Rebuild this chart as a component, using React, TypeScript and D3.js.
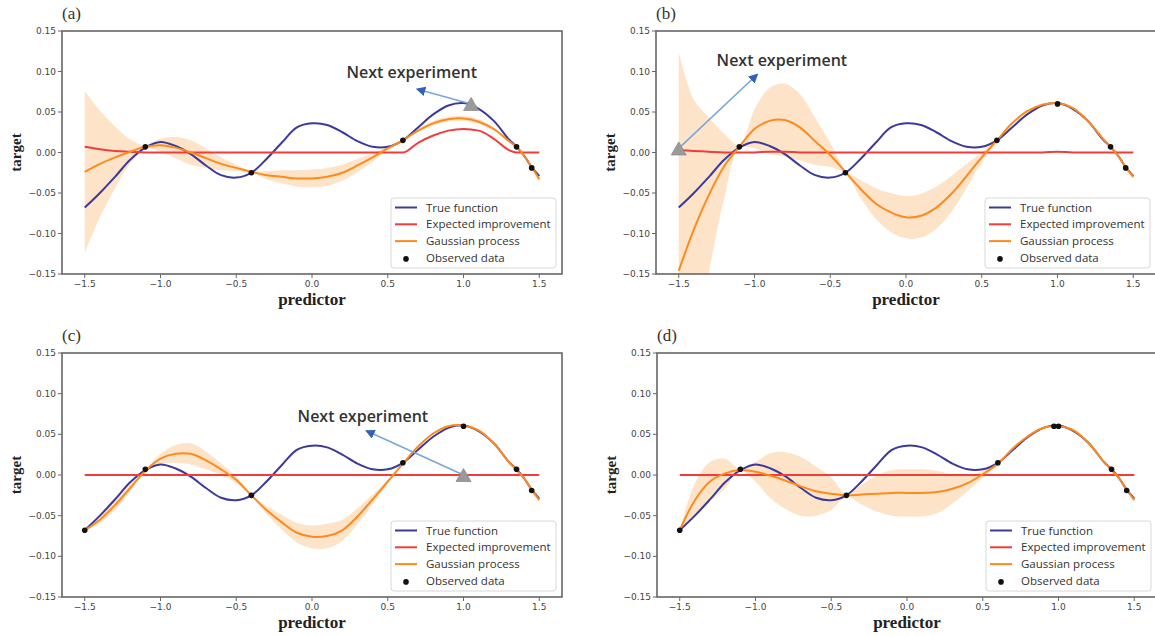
import React from "react";
import * as d3 from "d3";

// ---------- data ----------
const X_GRID = [-1.5, -1.4, -1.3, -1.2, -1.1, -1.0, -0.9, -0.8, -0.7, -0.6, -0.5, -0.4, -0.3, -0.2, -0.1, 0.0, 0.1, 0.2, 0.3, 0.4, 0.5, 0.6, 0.7, 0.8, 0.9, 1.0, 1.1, 1.2, 1.3, 1.35, 1.4, 1.45, 1.5];

const TRUE_Y = [-0.068, -0.05, -0.03, -0.009, 0.006, 0.013, 0.008, -0.002, -0.016, -0.028, -0.031, -0.025, -0.008, 0.012, 0.031, 0.036, 0.034, 0.025, 0.014, 0.007, 0.007, 0.015, 0.031, 0.047, 0.058, 0.061, 0.054, 0.039, 0.016, 0.007, -0.004, -0.018, -0.029];

// panel (a)
const GP_MEAN_A = [-0.024, -0.014, -0.006, 0.001, 0.007, 0.009, 0.006, 0.0, -0.007, -0.014, -0.019, -0.024, -0.028, -0.03, -0.032, -0.032, -0.03, -0.025, -0.016, -0.006, 0.005, 0.015, 0.027, 0.036, 0.041, 0.042, 0.038, 0.029, 0.014, 0.007, -0.004, -0.018, -0.033];
const GP_SD_A = [0.1, 0.066, 0.038, 0.015, 0.002, 0.008, 0.013, 0.015, 0.012, 0.008, 0.004, 0.001, 0.005, 0.008, 0.01, 0.011, 0.011, 0.01, 0.008, 0.005, 0.002, 0.001, 0.002, 0.003, 0.003, 0.003, 0.003, 0.002, 0.001, 0.001, 0.001, 0.001, 0.003];
const EI_A = [0.007, 0.004, 0.002, 0.001, 0, 0, 0, 0, 0, 0, 0, 0, 0, 0, 0, 0, 0, 0, 0, 0, 0, 0, 0.012, 0.021, 0.027, 0.029, 0.027, 0.017, 0.003, 0, 0, 0, 0];
const OBS_X_A = [-1.1, -0.4, 0.6, 1.35, 1.45];
const OBS_Y_A = [0.007, -0.025, 0.015, 0.007, -0.019];
const NEXT_A = [1.05, 0.06];

// panel (b)
const GP_MEAN_B = [-0.146, -0.095, -0.052, -0.017, 0.007, 0.029, 0.039, 0.04, 0.031, 0.014, -0.003, -0.024, -0.045, -0.063, -0.074, -0.08, -0.078, -0.068, -0.051, -0.029, -0.006, 0.015, 0.036, 0.051, 0.059, 0.061, 0.055, 0.039, 0.017, 0.007, -0.004, -0.018, -0.03];
const GP_SD_B = [0.27, 0.16, 0.095, 0.04, 0.002, 0.024, 0.041, 0.045, 0.041, 0.029, 0.015, 0.002, 0.011, 0.019, 0.024, 0.026, 0.027, 0.026, 0.022, 0.015, 0.006, 0.001, 0.001, 0.001, 0.001, 0.001, 0.001, 0.001, 0.001, 0.001, 0.001, 0.001, 0.002];
const EI_B = [0.003, 0.002, 0.001, 0, 0, 0, 0.001, 0.001, 0, 0, 0, 0, 0, 0, 0, 0, 0, 0, 0, 0, 0, 0, 0, 0, 0, 0.001, 0, 0, 0, 0, 0, 0, 0];
const OBS_X_B = [-1.1, -0.4, 0.6, 1.0, 1.35, 1.45];
const OBS_Y_B = [0.007, -0.025, 0.015, 0.06, 0.007, -0.019];
const NEXT_B = [-1.5, 0.005];

// panel (c)
const GP_MEAN_C = [-0.068, -0.055, -0.037, -0.016, 0.005, 0.02, 0.026, 0.026, 0.018, 0.007, -0.006, -0.025, -0.043, -0.058, -0.071, -0.076, -0.075, -0.068, -0.051, -0.03, -0.008, 0.014, 0.035, 0.051, 0.06, 0.061, 0.055, 0.039, 0.016, 0.006, -0.004, -0.018, -0.031];
const GP_SD_C = [0.0, 0.004, 0.006, 0.004, 0.001, 0.006, 0.011, 0.013, 0.011, 0.007, 0.004, 0.001, 0.005, 0.009, 0.012, 0.014, 0.015, 0.013, 0.01, 0.006, 0.002, 0.001, 0.001, 0.001, 0.001, 0.001, 0.001, 0.001, 0.001, 0.001, 0.001, 0.001, 0.001];
const EI_C = [0, 0, 0, 0, 0, 0, 0, 0, 0, 0, 0, 0, 0, 0, 0, 0, 0, 0, 0, 0, 0, 0, 0, 0, 0, 0, 0, 0, 0, 0, 0, 0, 0];
const OBS_X_C = [-1.5, -1.1, -0.4, 0.6, 1.0, 1.35, 1.45];
const OBS_Y_C = [-0.068, 0.007, -0.025, 0.015, 0.06, 0.007, -0.019];
const NEXT_C = [1.0, 0.0];

// panel (d)
const GP_MEAN_D = [-0.068, -0.031, -0.008, 0.002, 0.006, 0.004, -0.001, -0.007, -0.014, -0.02, -0.023, -0.025, -0.024, -0.023, -0.022, -0.022, -0.022, -0.021, -0.017, -0.01, 0.001, 0.014, 0.033, 0.048, 0.058, 0.06, 0.055, 0.039, 0.016, 0.006, -0.004, -0.018, -0.031];
const GP_SD_D = [0.0, 0.021, 0.024, 0.018, 0.001, 0.012, 0.028, 0.035, 0.036, 0.03, 0.02, 0.002, 0.012, 0.022, 0.028, 0.029, 0.029, 0.026, 0.018, 0.01, 0.004, 0.001, 0.001, 0.001, 0.001, 0.001, 0.001, 0.001, 0.001, 0.001, 0.001, 0.001, 0.001];
const EI_D = [0, 0, 0, 0, 0, 0, 0, 0, 0, 0, 0, 0, 0, 0, 0, 0, 0, 0, 0, 0, 0, 0, 0, 0, 0, 0, 0, 0, 0, 0, 0, 0, 0];
const OBS_X_D = [-1.5, -1.1, -0.4, 0.6, 0.97, 1.0, 1.35, 1.45];
const OBS_Y_D = [-0.068, 0.007, -0.025, 0.015, 0.06, 0.06, 0.007, -0.019];

const X_TICKS = [-1.5, -1.0, -0.5, 0.0, 0.5, 1.0, 1.5];
const Y_TICKS = [-0.15, -0.1, -0.05, 0.0, 0.05, 0.1, 0.15];
const LEGEND_LABELS = ["True function", "Expected improvement", "Gaussian process", "Observed data"];
const ANNOT_TEXT = "Next experiment";

// ---------- styles ----------
const C_TRUE = "#3b3a9c";
const C_EI = "#f23c3c";
const C_GP = "#ff8a1c";
const C_BAND = "#fde3c8";
const C_AXIS = "#666";
const C_TICK_TEXT = "#444";

const fmtMinus = (s: string) => s.replace("-", "\u2212");

type PanelProps = {
  id: string;
  label: string;
  left: number;
  top: number;
  width: number;
  height: number;
  mean: number[];
  sd: number[];
  ei: number[];
  obsX: number[];
  obsY: number[];
  next?: number[];
  annot?: { tx: number; ty: number; hx: number; hy: number };
};

function Panel(p: PanelProps) {
  const x = d3.scaleLinear().domain([-1.65, 1.65]).range([p.left, p.left + p.width]);
  const y = d3.scaleLinear().domain([-0.15, 0.15]).range([p.top + p.height, p.top]);
  const pts = X_GRID.map((xv, i) => ({ x: xv, t: TRUE_Y[i], m: p.mean[i], s: p.sd[i], e: p.ei[i] }));
  const curve = d3.curveCatmullRom.alpha(0.5);
  const area = d3
    .area<any>()
    .x((d) => x(d.x))
    .y0((d) => y(d.m - d.s))
    .y1((d) => y(d.m + d.s))
    .curve(curve);
  const lineT = d3.line<any>().x((d) => x(d.x)).y((d) => y(d.t)).curve(curve);
  const lineM = d3.line<any>().x((d) => x(d.x)).y((d) => y(d.m)).curve(curve);
  const lineE = d3.line<any>().x((d) => x(d.x)).y((d) => y(d.e)).curve(d3.curveMonotoneX);
  const clipId = "clip-" + p.id;
  const bottom = p.top + p.height;
  const right = p.left + p.width;

  // legend layout
  const lgW = 165;
  const lgH = 70;
  const lgX = right - 6 - lgW;
  const lgY = bottom - 6 - lgH;
  const rowH = 16.8;

  const tri = (cx: number, cy: number) => {
    const w = 7.5;
    const h = 13;
    return `M${cx - w},${cy + h / 2} L${cx + w},${cy + h / 2} L${cx},${cy - h / 2} Z`;
  };

  return (
    <g>
      <defs>
        <clipPath id={clipId}>
          <rect x={p.left} y={p.top} width={p.width} height={p.height} />
        </clipPath>
        <marker id={"arr-" + p.id} viewBox="0 0 10 10" refX="8" refY="5" markerWidth="6" markerHeight="6" orient="auto-start-reverse">
          <path d="M0,0 L10,5 L0,10 Z" fill="#2f62b8" />
        </marker>
      </defs>
      <text x={p.left} y={p.top - 12} fontFamily="Liberation Serif, serif" fontSize={17} fill="#333">
        {p.label}
      </text>
      <g clipPath={`url(#${clipId})`}>
        <path d={area(pts) || ""} fill={C_BAND} stroke="none" />
        <path d={lineT(pts) || ""} fill="none" stroke={C_TRUE} strokeWidth={2} />
        <path d={lineE(pts) || ""} fill="none" stroke={C_EI} strokeWidth={2} />
        <path d={lineM(pts) || ""} fill="none" stroke={C_GP} strokeWidth={2} />
        {p.obsX.map((ox, i) => (
          <circle key={i} cx={x(ox)} cy={y(p.obsY[i])} r={2.8} fill="#111" />
        ))}
      </g>
      {p.next && p.annot && (
        <g>
          <line
            x1={x(p.next[0])}
            y1={y(p.next[1])}
            x2={x(p.annot.hx)}
            y2={y(p.annot.hy)}
            stroke="#7aa6dc"
            strokeWidth={1.6}
            markerEnd={`url(#arr-${p.id})`}
          />
          <path d={tri(x(p.next[0]), y(p.next[1]))} fill="#9a9a9a" stroke="#8a8a8a" strokeWidth={0.8} />
          <text
            x={x(p.annot.tx)}
            y={y(p.annot.ty) + 5}
            textAnchor="middle"
            fontFamily="Open Sans, sans-serif"
            fontWeight={600}
            fontSize={16}
            fill="#333"
          >
            {ANNOT_TEXT}
          </text>
        </g>
      )}
      {/* frame */}
      <rect x={p.left} y={p.top} width={p.width} height={p.height} fill="none" stroke={C_AXIS} strokeWidth={1.6} />
      {/* ticks */}
      {X_TICKS.map((t) => (
        <g key={"x" + t}>
          <line x1={x(t)} x2={x(t)} y1={bottom} y2={bottom + 4} stroke={C_AXIS} strokeWidth={1} />
          <text x={x(t)} y={bottom + 13} textAnchor="middle" fontFamily="DejaVu Sans, sans-serif" fontSize={9} fill={C_TICK_TEXT}>
            {fmtMinus(d3.format(".1f")(t))}
          </text>
        </g>
      ))}
      {Y_TICKS.map((t) => (
        <g key={"y" + t}>
          <line x1={p.left - 4} x2={p.left} y1={y(t)} y2={y(t)} stroke={C_AXIS} strokeWidth={1} />
          <text x={p.left - 6} y={y(t) + 3} textAnchor="end" fontFamily="DejaVu Sans, sans-serif" fontSize={9} fill={C_TICK_TEXT}>
            {fmtMinus(d3.format(".2f")(Math.abs(t) < 1e-9 ? 0 : t))}
          </text>
        </g>
      ))}
      {/* axis labels */}
      <text
        x={(p.left + right) / 2}
        y={bottom + 31}
        textAnchor="middle"
        fontFamily="Liberation Serif, serif"
        fontSize={17}
        fontWeight={600}
        fill="#222"
      >
        predictor
      </text>
      <text
        transform={`translate(${p.left - 41},${(p.top + bottom) / 2}) rotate(-90)`}
        textAnchor="middle"
        fontFamily="Liberation Serif, serif"
        fontSize={15}
        fontWeight={600}
        fill="#222"
      >
        target
      </text>
      {/* legend */}
      <g>
        <rect x={lgX} y={lgY} width={lgW} height={lgH} rx={3} fill="white" fillOpacity={0.9} stroke="#d8d8d8" strokeWidth={1} />
        {LEGEND_LABELS.map((lab, i) => {
          const cy = lgY + 9.5 + i * rowH;
          const col = [C_TRUE, C_EI, C_GP][i];
          return (
            <g key={lab}>
              {i < 3 ? (
                <line x1={lgX + 4} x2={lgX + 26} y1={cy} y2={cy} stroke={col} strokeWidth={2} />
              ) : (
                <circle cx={lgX + 15} cy={cy + 1} r={2.8} fill="#111" />
              )}
              <text x={lgX + 35} y={cy + 4} fontFamily="Open Sans, sans-serif" fontSize={11.5} fill="#333">
                {lab}
              </text>
            </g>
          );
        })}
      </g>
    </g>
  );
}

export default function App() {
  return (
    <svg
      width={1155}
      height={636}
      style={{ position: "absolute", left: 0, top: 0, background: "white" }}
      xmlns="http://www.w3.org/2000/svg"
    >
      <rect x={0} y={0} width={1155} height={636} fill="white" />
      <Panel
        id="a"
        label="(a)"
        left={62}
        top={31}
        width={500}
        height={243}
        mean={GP_MEAN_A}
        sd={GP_SD_A}
        ei={EI_A}
        obsX={OBS_X_A}
        obsY={OBS_Y_A}
        next={NEXT_A}
        annot={{ tx: 0.658, ty: 0.098, hx: 0.697, hy: 0.078 }}
      />
      <Panel
        id="b"
        label="(b)"
        left={656}
        top={31}
        width={500}
        height={243}
        mean={GP_MEAN_B}
        sd={GP_SD_B}
        ei={EI_B}
        obsX={OBS_X_B}
        obsY={OBS_Y_B}
        next={NEXT_B}
        annot={{ tx: -0.819, ty: 0.113, hx: -0.984, hy: 0.096 }}
      />
      <Panel
        id="c"
        label="(c)"
        left={62}
        top={353}
        width={500}
        height={244}
        mean={GP_MEAN_C}
        sd={GP_SD_C}
        ei={EI_C}
        obsX={OBS_X_C}
        obsY={OBS_Y_C}
        next={NEXT_C}
        annot={{ tx: 0.336, ty: 0.071, hx: 0.362, hy: 0.054 }}
      />
      <Panel
        id="d"
        label="(d)"
        left={657}
        top={353}
        width={500}
        height={244}
        mean={GP_MEAN_D}
        sd={GP_SD_D}
        ei={EI_D}
        obsX={OBS_X_D}
        obsY={OBS_Y_D}
      />
    </svg>
  );
}
